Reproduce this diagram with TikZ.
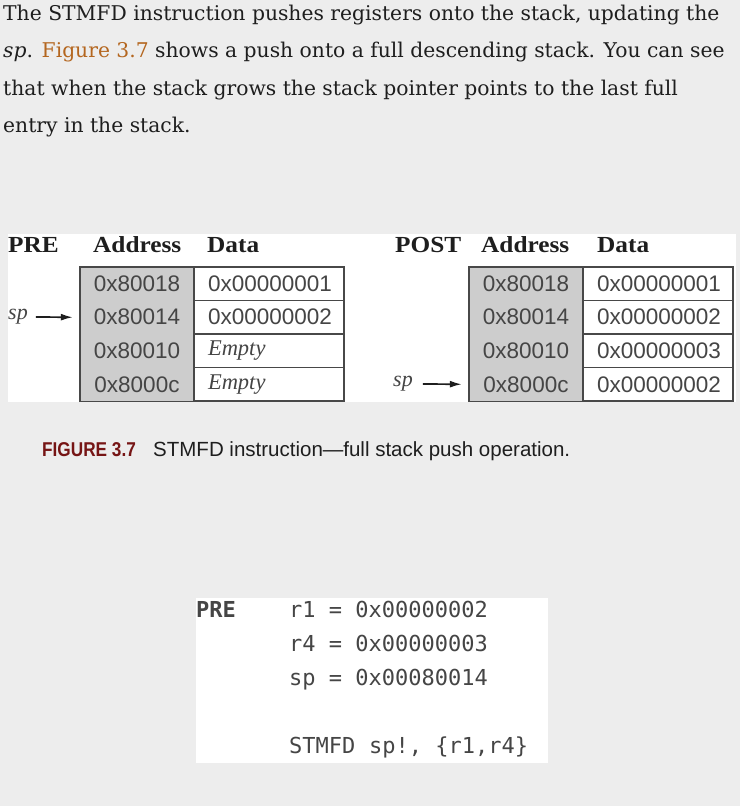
\documentclass[tikz,border=0pt]{standalone}
\usepackage{fontspec}
\setmainfont{DejaVu Serif}
\newfontfamily\tabserif{Liberation Serif}
\newfontfamily\headfont[FakeStretch=1.1]{Liberation Serif}
\newfontfamily\tabsans{Liberation Sans}
\newfontfamily\fignumfont[FakeStretch=0.86]{Liberation Sans}
\newfontfamily\codefont{DejaVu Sans Mono}
\usetikzlibrary{arrows.meta,positioning}
\definecolor{page}{HTML}{EDEDED}
\definecolor{link}{HTML}{B4661F}
\definecolor{figred}{HTML}{761515}
\definecolor{addr}{HTML}{CDCDCD}
\definecolor{frame}{HTML}{484848}
\definecolor{ink}{HTML}{1E1E1E}
\definecolor{cellink}{HTML}{454545}
\newcommand{\emptyslot}{{\tabserif\itshape Empty}}
\tikzset{
  para/.style={anchor=base west, inner sep=0pt, font=\fontsize{20.3}{23}\selectfont, text=ink},
  head/.style={anchor=base west, inner sep=0pt, font=\headfont\bfseries\fontsize{23}{26}\selectfont, text=ink},
  addrcell/.style={fill=addr, minimum width=114pt, minimum height=33.5pt, inner sep=0pt,
    font=\tabsans\fontsize{22.5}{24}\selectfont, text=cellink},
  datacell/.style={draw=frame, line width=1.4pt, fill=white, minimum width=150pt, minimum height=33.5pt,
    text width=122pt, inner xsep=14pt, inner ysep=0pt, align=left,
    font=\tabsans\fontsize{22.5}{24}\selectfont, text=cellink},
  colframe/.style={draw=frame, line width=1.4pt},
  spnode/.style={anchor=west, inner sep=0pt, font=\tabserif\itshape\fontsize{22}{24}\selectfont, text=cellink},
  sparrow/.style={-{Latex[length=12pt,width=7pt]}, draw=ink, line width=1.7pt},
  code/.style={anchor=base west, inner sep=0pt, font=\codefont\fontsize{22}{24}\selectfont, text=cellink},
  capt/.style={anchor=base west, inner sep=0pt, font=\tabsans\fontsize{20.5}{22}\selectfont}
}

\begin{document}
\begin{tikzpicture}[x=1pt, y=-1pt]
  % page and white image areas
  \fill[page] (0,0) rectangle (740,806);
  \fill[white] (8,234) rectangle (736,402);
  \fill[white] (196,598) rectangle (548,763);

  % running text
  \node[para] (line1) at (3,20) {The STMFD instruction pushes registers onto the stack, updating the};
  \node[para] (line2) at (3,57) {\textit{sp}. {\color{link}Figure 3.7} shows a push onto a full descending stack. You can see};
  \node[para] (line3) at (3,95) {that when the stack grows the stack pointer points to the last full};
  \node[para] (line4) at (3,132) {entry in the stack.};

  % PRE stack
  \node[head] (prehd) at (8,252) {PRE};
  \node[head] (preaddr) at (93,252) {Address};
  \node[head] (predata) at (207,252) {Data};
  \foreach \a/\d [count=\i] in {0x80018/0x00000001, 0x80014/0x00000002, 0x80010/\emptyslot, 0x8000c/\emptyslot}{
    \node[addrcell] (pa\i) at (137,{267+33.5*(\i-0.5)}) {\a};
    \node[datacell] (pd\i) at (269,{267+33.5*(\i-0.5)}) {\d};
  }
  \draw[colframe] (pa1.north west) rectangle (pa4.south east);
  \node[spnode] (presp) at (8,317) {sp};
  \draw[sparrow] ([xshift=8pt]presp.east) -- ([xshift=-7pt]pa2.west);

  % POST stack
  \node[head] (posthd) at (395,252) {POST};
  \node[head] (postaddr) at (481,252) {Address};
  \node[head] (postdata) at (597,252) {Data};
  \foreach \a/\d [count=\i] in {0x80018/0x00000001, 0x80014/0x00000002, 0x80010/0x00000003, 0x8000c/0x00000002}{
    \node[addrcell] (qa\i) at (526,{267+33.5*(\i-0.5)}) {\a};
    \node[datacell] (qd\i) at (658,{267+33.5*(\i-0.5)}) {\d};
  }
  \draw[colframe] (qa1.north west) rectangle (qa4.south east);
  \node[spnode] (postsp) at (393,384) {sp};
  \draw[sparrow] ([xshift=10pt]postsp.east) -- ([xshift=-7pt]qa4.west);

  % caption
  \node[capt, font=\fignumfont\bfseries\fontsize{20}{22}\selectfont, text=figred] (fignum) at (42,456) {FIGURE 3.7};
  \node[capt, text=ink] (figtext) at (153,456) {STMFD instruction—full stack push operation.};

  % code
  \node[code, font=\codefont\bfseries\fontsize{22}{24}\selectfont] (cpre) at (196,617) {PRE};
  \node[code] (cr1) at (289,617) {r1 = 0x00000002};
  \node[code] (cr4) at (289,651) {r4 = 0x00000003};
  \node[code] (csp) at (289,685) {sp = 0x00080014};
  \node[code] (cop) at (289,753) {STMFD};
  \node[code] (cargs) at (369,753) {sp!, \{r1,r4\}};
\end{tikzpicture}
\end{document}
